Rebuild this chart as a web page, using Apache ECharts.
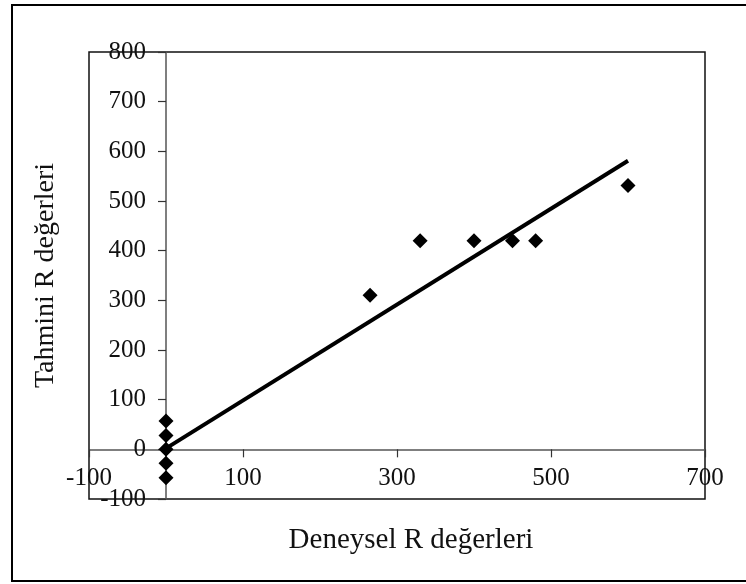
<!DOCTYPE html>
<html lang="tr">
<head>
    <meta charset="UTF-8">
    <title>Deneysel - Tahmini R</title>
    <style>
        html, body { margin: 0; padding: 0; background: #fff; }
        #chart-container { width: 746px; height: 584px; }
    </style>
</head>
<body>
    <div id="chart-container"></div>
    <script src="https://cdn.jsdelivr.net/npm/echarts@6/dist/echarts.min.js"></script>
    <script>
        // measured (x) vs predicted (y) R values
        const deneysel = [0, 0, 0, 0, 0, 265, 330, 400, 450, 480, 600];
        const tahmini = [57, 28, 0, -28, -57, 310, 420, 420, 420, 420, 531];
        // trend line end points
        const trendX = [0, 600];
        const trendY = [2, 581];

        const serif = 'Liberation Serif';
        const xRange = [-100, 700];
        const yRange = [-100, 800];

        // plot box (px)
        const gridBox = { left: 89, right: 41, top: 52, bottom: 85 };
        const plotW = 746 - gridBox.left - gridBox.right;
        const plotH = 584 - gridBox.top - gridBox.bottom;

        // move axes so they cross at zero, like the Excel original
        const yAxisShift = -(0 - xRange[0]) / (xRange[1] - xRange[0]) * plotW;
        const xAxisShift = -(0 - yRange[0]) / (yRange[1] - yRange[0]) * plotH;

        var dom = document.getElementById('chart-container');
        var myChart = echarts.init(dom, null, { renderer: 'canvas' });

        var points = deneysel.map(function (x, i) { return [x, tahmini[i]]; });
        var trend = trendX.map(function (x, i) { return [x, trendY[i]]; });

        var option = {
            animation: false,
            grid: {
                left: gridBox.left,
                right: gridBox.right,
                top: gridBox.top,
                bottom: gridBox.bottom,
                containLabel: false,
                outerBoundsMode: 'none',
                show: true,
                borderColor: '#111',
                borderWidth: 1.5
            },
            graphic: [{
                type: 'rect',
                shape: { x: 12, y: 5, width: 760, height: 576 },
                style: { fill: 'none', stroke: '#000', lineWidth: 2 },
                silent: true
            }],
            xAxis: {
                type: 'value',
                min: xRange[0],
                max: xRange[1],
                interval: 200,
                offset: xAxisShift,
                name: 'Deneysel R değerleri',
                nameLocation: 'middle',
                nameGap: 77,
                nameTextStyle: { fontFamily: serif, fontSize: 29, color: '#111', padding: [0, 0, 0, 28] },
                axisLine: { onZero: false, lineStyle: { color: '#555', width: 1.5 } },
                axisTick: { show: true, length: 8, lineStyle: { color: '#333', width: 1.2 } },
                axisLabel: { fontFamily: serif, fontSize: 25, color: '#111', margin: 17 },
                splitLine: { show: false }
            },
            yAxis: {
                type: 'value',
                min: yRange[0],
                max: yRange[1],
                interval: 100,
                offset: yAxisShift,
                name: 'Tahmini R değerleri',
                nameLocation: 'middle',
                nameGap: 106,
                nameTextStyle: { fontFamily: serif, fontSize: 28, color: '#111' },
                axisLine: { onZero: false, lineStyle: { color: '#555', width: 1.5 } },
                axisTick: { show: true, length: 8, lineStyle: { color: '#333', width: 1.2 } },
                axisLabel: { fontFamily: serif, fontSize: 25, color: '#111', margin: 20 },
                splitLine: { show: false }
            },
            series: [
                {
                    type: 'line',
                    data: trend,
                    symbol: 'none',
                    lineStyle: { color: '#000', width: 4 },
                    z: 2
                },
                {
                    type: 'scatter',
                    data: points,
                    symbol: 'diamond',
                    symbolSize: 15,
                    itemStyle: { color: '#000', opacity: 1 },
                    z: 3
                }
            ]
        };

        myChart.setOption(option);
        window.addEventListener('resize', myChart.resize);
    </script>
</body>
</html>
